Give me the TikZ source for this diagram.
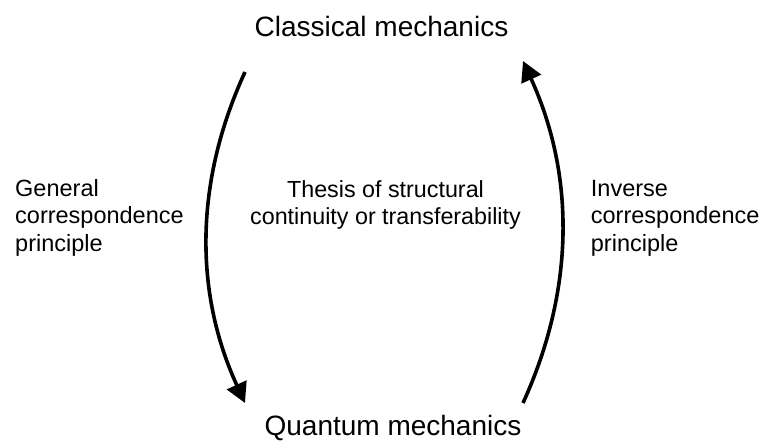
\documentclass[tikz,border=0pt]{standalone}
\usepackage{fontspec}
\setmainfont{Liberation Sans}
\usetikzlibrary{arrows.meta}
\tikzset{
  title/.style={inner sep=0pt, font=\fontsize{28}{34}\selectfont, anchor=base},
  label/.style={inner sep=0pt, font=\fontsize{23.5}{27.8}\selectfont, align=left, anchor=base west},
  midlabel/.style={inner sep=0pt, font=\fontsize{23.3}{26.6}\selectfont, align=center, anchor=base},
  flow/.style={line width=3.6pt, -{Triangle[length=20pt,width=21pt]}}
}
\begin{document}
\begin{tikzpicture}[x=1pt,y=-1pt]
\useasboundingbox (0,0) rectangle (763,442);
\node[title] (cm) at (381.5,36) {Classical mechanics};
\node[title] (qm) at (393,435) {Quantum mechanics};
\node[label] (gcp) at (15,251.7) {General\\correspondence\\principle};
\node[label] (icp) at (590.7,251.7) {Inverse\\correspondence\\principle};
\node[midlabel] (th) at (385.5,224.3) {Thesis of structural\\continuity or transferability};
\coordinate (ls) at (245,72);
\coordinate (le) at (245,403);
\coordinate (rs) at (523,403);
\coordinate (re) at (523,61);
\draw[flow] (ls) .. controls (194.3,182.3) and (194.3,292.7) .. (le);
\draw[flow] (rs) .. controls (575,289) and (575,175) .. (re);
\end{tikzpicture}
\end{document}
